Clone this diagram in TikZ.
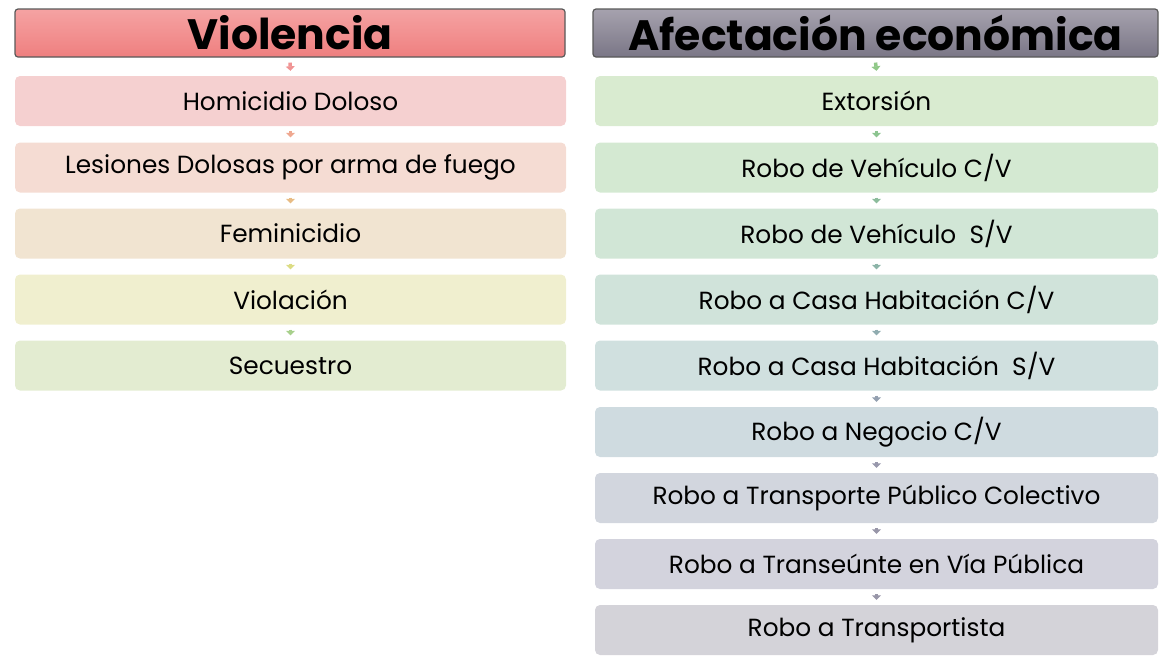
\documentclass[tikz,border=0pt]{standalone}
\usepackage{fontspec}
\setmainfont{Poppins}
\usetikzlibrary{calc,arrows.meta}
\definecolor{lh1}{HTML}{F5A3A3}\definecolor{lh2}{HTML}{EF7F7F}
\definecolor{rh1}{HTML}{A6A2AE}\definecolor{rh2}{HTML}{7A7686}
\definecolor{l1}{HTML}{F5D0D0}\definecolor{l2}{HTML}{F5DCD3}\definecolor{l3}{HTML}{F1E4D1}
\definecolor{l4}{HTML}{F0EFCF}\definecolor{l5}{HTML}{E3ECD1}
\definecolor{r1}{HTML}{D9EBD0}\definecolor{r2}{HTML}{D4E9D2}\definecolor{r3}{HTML}{D1E6D6}
\definecolor{r4}{HTML}{D0E3DA}\definecolor{r5}{HTML}{D0E0DF}\definecolor{r6}{HTML}{CFDBE0}
\definecolor{r7}{HTML}{D2D6DE}\definecolor{r8}{HTML}{D3D3DD}\definecolor{r9}{HTML}{D4D3D9}
\definecolor{la1}{HTML}{F09494}\definecolor{la2}{HTML}{EFA890}\definecolor{la3}{HTML}{E8BC84}
\definecolor{la4}{HTML}{DCDC84}\definecolor{la5}{HTML}{A8D08C}
\definecolor{ra1}{HTML}{90C888}\definecolor{ra2}{HTML}{8CC490}\definecolor{ra3}{HTML}{8CBC9C}
\definecolor{ra4}{HTML}{8CB4A8}\definecolor{ra5}{HTML}{90ACB0}\definecolor{ra6}{HTML}{94A0B0}
\definecolor{ra7}{HTML}{9898AC}\definecolor{ra8}{HTML}{9896A8}
\begin{document}
\begin{tikzpicture}[x=1pt,y=-1pt,
  header/.style={draw=black!65,line width=1.2pt,rounded corners=3pt,minimum height=48pt,
    inner sep=0pt,font=\fontsize{42.5}{46}\selectfont\bfseries,text=black},
  itembox/.style={rounded corners=5pt,minimum height=50pt,inner sep=0pt,
    font=\fontsize{24.8}{28}\selectfont,text=black},
  link/.style={line width=3.5pt,-{Triangle[width=9pt,length=4.5pt]},shorten >=0pt}]
\useasboundingbox (0,0) rectangle (1165,657);
% left column
\node[header,minimum width=550pt,top color=lh1,bottom color=lh2] (lh) at (290,33) {Violencia};
\node[itembox,minimum width=551pt,fill=l1] (a1) at (290.5,101) {Homicidio Doloso};
\node[itembox,minimum width=551pt,fill=l2] (a2) at (290.5,167.5) {Lesiones Dolosas por arma de fuego};
\node[itembox,minimum width=551pt,fill=l3] (a3) at (290.5,233.5) {Feminicidio};
\node[itembox,minimum width=551pt,fill=l4] (a4) at (290.5,299.5) {Violación};
\node[itembox,minimum width=551pt,fill=l5] (a5) at (290.5,365.5) {Secuestro};
% right column
\node[header,minimum width=565pt,top color=rh1,bottom color=rh2] (rh) at (875.5,33) {Afectación económica};
\node[itembox,minimum width=563pt,fill=r1] (b1) at (876.5,101) {Extorsión};
\node[itembox,minimum width=563pt,fill=r2] (b2) at (876.5,167.5) {Robo de Vehículo C/V};
\node[itembox,minimum width=563pt,fill=r3] (b3) at (876.5,233.5) {Robo de Vehículo\ \ S/V};
\node[itembox,minimum width=563pt,fill=r4] (b4) at (876.5,299.5) {Robo a Casa Habitación C/V};
\node[itembox,minimum width=563pt,fill=r5] (b5) at (876.5,365.5) {Robo a Casa Habitación\ \ S/V};
\node[itembox,minimum width=563pt,fill=r6] (b6) at (876.5,432) {Robo a Negocio C/V};
\node[itembox,minimum width=563pt,fill=r7] (b7) at (876.5,498) {Robo a Transporte Público Colectivo};
\node[itembox,minimum width=563pt,fill=r8] (b8) at (876.5,564) {Robo a Transeúnte en Vía Pública};
\node[itembox,minimum width=563pt,fill=r9] (b9) at (876.5,630) {Robo a Transportista};
% connectors
\foreach \s/\t/\c in {lh/a1/la1,a1/a2/la2,a2/a3/la3,a3/a4/la4,a4/a5/la5,
  rh/b1/ra1,b1/b2/ra2,b2/b3/ra3,b3/b4/ra4,b4/b5/ra5,b5/b6/ra6,b6/b7/ra7,b7/b8/ra8,b8/b9/ra8}
  \draw[link,draw=\c,fill=\c] ($(\s.south)+(0,5)$) -- ($(\t.north)+(0,-5)$);
\end{tikzpicture}
\end{document}
